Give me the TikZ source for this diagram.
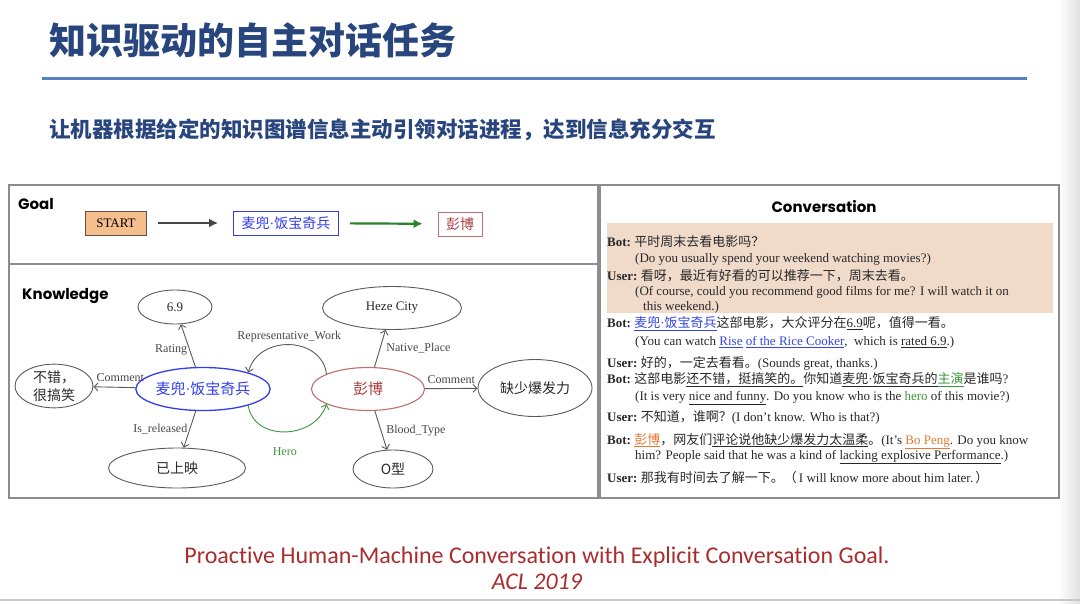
\documentclass[tikz,border=0pt]{standalone}
\usepackage{fontspec}
\setmainfont{Liberation Serif}
\newfontfamily\cjk{Noto Sans CJK SC}
\newfontfamily\geo{Poppins}
\newfontfamily\cali{Carlito}[Ligatures=NoCommon]
\usetikzlibrary{positioning,arrows.meta,shapes.geometric}
\usepackage{xcolor}
\definecolor{titleblue}{RGB}{40,70,125}
\definecolor{rulecolor}{RGB}{85,130,190}
\definecolor{panelgray}{RGB}{140,140,140}
\definecolor{peach}{RGB}{240,218,202}
\definecolor{startfill}{RGB}{246,190,140}
\definecolor{startdraw}{RGB}{100,80,70}
\definecolor{movieblue}{RGB}{50,60,235}
\definecolor{actorred}{RGB}{170,60,60}
\definecolor{actorrose}{RGB}{190,110,110}
\definecolor{herogreen}{RGB}{60,150,60}
\definecolor{arrowgray}{RGB}{70,70,70}
\definecolor{goalgreen}{RGB}{40,130,40}
\definecolor{edgegray}{RGB}{90,90,90}
\definecolor{labelgray}{RGB}{70,70,70}
\definecolor{textgray}{RGB}{40,40,40}
\definecolor{linkblue}{RGB}{50,70,230}
\definecolor{actororange}{RGB}{230,120,50}
\definecolor{footred}{RGB}{170,45,45}

\newcommand\fsz[1]{\fontsize{#1}{#1}\selectfont}
\newcommand\zh[1]{{\cjk #1}}
\newcommand\who[1]{\textbf{#1}\ }
\newcommand\mdot{{\rmfamily\char"00B7}}

\tikzset{
  panel/.style={draw=panelgray,line width=1.5pt},
  boxlabel/.style={anchor=west,inner sep=0,font=\geo\bfseries\fsz{15},text=black},
  goalbox/.style={draw,rectangle,inner sep=0,minimum height=24pt,line width=0.9pt},
  goalarrow/.style={line width=2.2pt,-{Latex[length=9pt,width=9pt]},shorten <=11pt,shorten >=15pt},
  kg/.style={ellipse,draw=edgegray,line width=0.9pt,inner sep=0,text=textgray,font=\cjk\fsz{14}},
  rel/.style={draw=edgegray,line width=0.9pt,-{Straight Barb[length=4pt,width=8pt]}},
  rellabel/.style={font=\fsz{12},text=labelgray,inner sep=1pt},
  convline/.style={anchor=west,inner sep=0,font=\fsz{13},text=textgray}
}

\begin{document}
\begin{tikzpicture}[x=1pt,y=-1pt]
\useasboundingbox (0,0) rectangle (1080,603);
% slide edge
\shade[left color=white,right color=black!12] (1058,0) rectangle (1080,603);
\draw[black!22,line width=2pt] (0,600) -- (1080,600);

% heading
\node[anchor=west,inner sep=0,text=titleblue,font=\cjk\bfseries\fsz{37}] (title) at (49,40) {知识驱动的自主对话任务};
\draw[rulecolor,line width=3pt] (42,78) -- (1027,78);
\node[anchor=west,inner sep=0,text=titleblue,font=\cjk\bfseries\fsz{21.5}] (subtitle) at (49,130)
  {让机器根据给定的知识图谱信息主动引领对话进程，达到信息充分交互};

% panels
\draw[panel] (9,185) rectangle (598,498);
\draw[panel] (9,264) -- (598,264);
\draw[panel] (600,185) rectangle (1059,498);
\fill[peach] (607,223) rectangle (1053,313);

% goal
\node[boxlabel] (goal) at (18,204) {Goal};
\node[goalbox,fill=startfill,draw=startdraw,minimum width=61pt,font=\fsz{13}] (start) at (116,223) {START};
\node[goalbox,draw=movieblue,text=movieblue,minimum width=105pt,font=\cjk\fsz{14}] (gmovie) at (286,223) {麦兜\mdot 饭宝奇兵};
\node[goalbox,draw=actorrose,text=actorred,minimum width=44pt,font=\cjk\fsz{14}] (gactor) at (460,224) {彭博};
\draw[goalarrow,draw=arrowgray] (start) -- (gmovie);
\draw[goalarrow,draw=goalgreen] (gmovie) -- (gactor);

% knowledge
\node[boxlabel] (knowledge) at (22,296) {Knowledge};
\node[kg,minimum width=74pt,minimum height=34pt,font=\fsz{13}] (rating) at (175,307) {6.9};
\node[kg,minimum width=78pt,minimum height=36pt,align=center,font=\cjk\fontsize{14}{18}\selectfont] (funny) at (54,386) {不错，\\很搞笑};
\node[kg,draw=movieblue,line width=1.3pt,text=movieblue,minimum width=123pt,minimum height=43pt,font=\cjk\fsz{15}] (movie) at (203,389) {麦兜\mdot 饭宝奇兵};
\node[kg,minimum width=137pt,minimum height=40pt] (released) at (177,468) {已上映};
\node[kg,draw=actorrose,line width=1.1pt,text=actorred,minimum width=113pt,minimum height=43pt,font=\cjk\fsz{15}] (actor) at (368,389) {彭博};
\node[kg,minimum width=139pt,minimum height=43pt,font=\fsz{13}] (heze) at (392,308) {Heze City};
\node[kg,minimum width=114pt,minimum height=57pt] (weak) at (535,388) {缺少爆发力};
\node[kg,minimum width=80pt,minimum height=38pt] (blood) at (393,469) {O型};

\draw[rel] (movie) -- node[rellabel,left=1pt,pos=0.4] (lrating) {Rating} (rating);
\draw[rel] (movie) -- node[rellabel,above=4pt,xshift=6pt] (lcomm) {Comment} (funny);
\draw[rel] (movie) -- node[rellabel,left=1pt] (lrel) {Is\_released} (released);
\draw[rel] (actor) -- node[rellabel,right=5pt] (lplace) {Native\_Place} (heze);
\draw[rel] (actor) -- node[rellabel,above=3pt] (lcomm2) {Comment} (weak);
\draw[rel] (actor) -- node[rellabel,right=4pt] (lblood) {Blood\_Type} (blood);
\draw[rel] (actor.160) .. controls +(-5,-38) and +(10,-38) .. node[rellabel,above=1pt] (lwork) {Representative\_Work} (movie.20);
\draw[rel,draw=herogreen] (movie.-20) .. controls +(5,36) and +(-12,36) .. node[rellabel,text=herogreen,below=14pt] (lhero) {Hero} (actor.200);

% conversation
\node[boxlabel,anchor=center] (conv) at (824,207) {Conversation};
\node[convline] (c1) at (607,242) {\who{Bot:}\zh{平时周末去看电影吗？}};
\node[convline] (c2) at (635,259) {(Do you usually spend your weekend watching movies?)};
\node[convline] (c3) at (607,276) {\who{User:}\zh{看呀，最近有好看的可以推荐一下，周末去看。}};
\node[convline] (c4) at (635,292) {(Of course, could you recommend good films for me? I will watch it on};
\node[convline] (c5) at (643,307) {this weekend.)};
\node[convline] (c6) at (607,324) {\who{Bot:}\textcolor{linkblue}{\underline{\zh{麦兜\mdot 饭宝奇兵}}}\zh{这部电影，大众评分在}\underline{6.9}\zh{呢，值得一看。}};
\node[convline] (c7) at (635,342) {(You can watch \textcolor{linkblue}{\underline{Rise}} \textcolor{linkblue}{\underline{of the Rice Cooker}},\ \ which is \underline{rated 6.9}.)};
\node[convline] (c8) at (607,363) {\who{User:}\zh{好的，一定去看看。}(Sounds great, thanks.)};
\node[convline] (c9) at (607,380) {\who{Bot:}\zh{这部电影\underline{还不错，挺搞笑的。}你知道\underline{麦兜\mdot 饭宝奇兵的}\textcolor{herogreen}{\underline{主演}}是谁吗}?};
\node[convline] (c10) at (635,398) {(It is very \underline{nice and funny}. Do you know who is the \textcolor{herogreen}{hero} of this movie?)};
\node[convline] (c11) at (607,417) {\who{User:}\zh{不知道，谁啊？}(I don't know. Who is that?)};
\node[convline] (c12) at (607,441) {\who{Bot:}\textcolor{actororange}{\underline{\zh{彭博}}}\zh{，网友们\underline{评论说他缺少爆发力太温柔}。}(It's \textcolor{actororange}{\underline{Bo Peng}}. Do you know};
\node[convline] (c13) at (635,457) {him? People said that he was a kind of \underline{lacking explosive Performance}.)};
\node[convline] (c14) at (607,478) {\who{User:}\zh{那我有时间去了解一下。（}\,I will know more about him later.\,\zh{）}};

% reference
\node[text=footred,font=\cali\fsz{24},inner sep=0] (paper) at (537,557) {Proactive Human-Machine Conversation with Explicit Conversation Goal.};
\node[text=footred,font=\cali\itshape\fsz{24},inner sep=0] (venue) at (537,582) {ACL 2019};
\end{tikzpicture}
\end{document}
